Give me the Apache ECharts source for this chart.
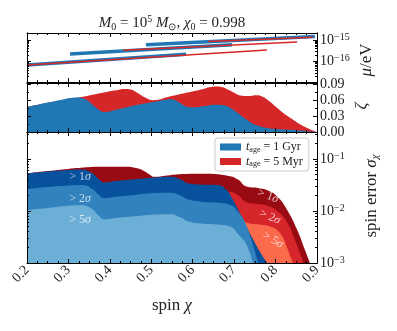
<!DOCTYPE html>
<html>
<head>
<meta charset="utf-8">
<script src="https://cdn.jsdelivr.net/npm/echarts@6/dist/echarts.min.js"></script>
<style>
html, body { margin: 0; padding: 0; background: #fff; }
#main { width: 397px; height: 331px; }
</style>
</head>
<body>
<div id="main"></div>
<script>
// top panel: log10(mu / eV) segments, [spin, log10 mu]
var muBlue = [
    [[0.2, -16.16], [0.584, -15.66]],
    [[0.304, -15.65], [0.695, -15.22]],
    [[0.487, -15.22], [0.895, -14.83]]
];
var muRed = [
    [[0.2, -16.16], [0.779, -15.46]],
    [[0.432, -15.47], [0.852, -15.09]],
    [[0.637, -15.06], [0.89, -14.87]]
];

// middle panel: zeta
var zetaBlue = [[0.2,0.047],[0.25,0.0555],[0.29,0.062],[0.31,0.0645],[0.325,0.065],[0.335,0.0635],[0.345,0.060],
    [0.355,0.054],[0.365,0.047],[0.375,0.041],[0.385,0.0378],[0.42,0.043],[0.46,0.050],[0.50,0.056],[0.53,0.0605],
    [0.545,0.062],[0.555,0.061],[0.565,0.057],[0.575,0.052],[0.59,0.047],[0.60,0.0465],[0.63,0.049],[0.655,0.0515],
    [0.675,0.0505],[0.69,0.046],[0.705,0.038],[0.72,0.029],[0.735,0.021],[0.75,0.014],[0.765,0.010],[0.78,0.0075],
    [0.80,0.0055],[0.85,0.0035],[0.9,0.001]];
var zetaRed = [[0.2,0.047],[0.25,0.055],[0.30,0.062],[0.35,0.069],[0.40,0.077],[0.42,0.0795],[0.435,0.0812],
    [0.45,0.080],[0.46,0.077],[0.47,0.072],[0.485,0.065],[0.505,0.060],[0.54,0.066],[0.58,0.073],[0.62,0.080],
    [0.64,0.0845],[0.655,0.086],[0.67,0.085],[0.685,0.080],[0.70,0.074],[0.715,0.069],[0.735,0.068],[0.755,0.0695],
    [0.77,0.066],[0.785,0.058],[0.80,0.048],[0.82,0.035],[0.84,0.0245],[0.86,0.014],[0.875,0.008],[0.89,0.003],[0.9,0.0008]];

// bottom panel: log10 spin error, [spin, log10 sigma]
var sigRed1 = [[0.2,-1.275],[0.25,-1.23],[0.30,-1.19],[0.33,-1.17],[0.376,-1.15],[0.44,-1.15],[0.46,-1.17],
    [0.48,-1.22],[0.50,-1.32],[0.505,-1.34],[0.545,-1.31],[0.58,-1.29],[0.62,-1.285],[0.69,-1.33],[0.71,-1.40],
    [0.73,-1.53],[0.76,-1.56],[0.78,-1.60],[0.804,-1.72],[0.828,-1.98],[0.852,-2.36],[0.871,-2.75],[0.883,-3.0]];
var sigRed2 = [[0.2,-1.58],[0.25,-1.53],[0.30,-1.49],[0.33,-1.47],[0.376,-1.45],[0.44,-1.45],[0.46,-1.47],
    [0.48,-1.52],[0.50,-1.62],[0.505,-1.64],[0.545,-1.61],[0.58,-1.59],[0.62,-1.585],[0.69,-1.63],[0.71,-1.70],
    [0.73,-1.83],[0.76,-1.87],[0.78,-1.90],[0.804,-2.0],[0.827,-2.2],[0.847,-2.56],[0.862,-2.88],[0.867,-3.0]];
var sigRed5 = [[0.2,-1.98],[0.25,-1.93],[0.30,-1.89],[0.33,-1.87],[0.376,-1.85],[0.44,-1.85],[0.46,-1.87],
    [0.48,-1.92],[0.50,-2.02],[0.505,-2.04],[0.545,-2.01],[0.58,-1.99],[0.62,-1.985],[0.69,-2.03],[0.71,-2.10],
    [0.73,-2.22],[0.76,-2.26],[0.787,-2.30],[0.811,-2.43],[0.827,-2.69],[0.839,-2.94],[0.843,-3.0]];
var sigBlue1 = [[0.2,-1.275],[0.25,-1.24],[0.30,-1.21],[0.33,-1.20],[0.355,-1.26],[0.375,-1.40],[0.385,-1.45],
    [0.42,-1.42],[0.46,-1.39],[0.50,-1.36],[0.545,-1.34],[0.57,-1.39],[0.59,-1.47],[0.62,-1.49],[0.66,-1.50],
    [0.68,-1.58],[0.695,-1.75],[0.718,-2.11],[0.742,-2.49],[0.765,-2.82],[0.78,-3.0]];
var sigBlue2 = [[0.2,-1.58],[0.25,-1.54],[0.30,-1.51],[0.33,-1.50],[0.355,-1.56],[0.375,-1.70],[0.385,-1.75],
    [0.42,-1.72],[0.46,-1.69],[0.50,-1.66],[0.545,-1.65],[0.57,-1.70],[0.59,-1.78],[0.62,-1.82],[0.66,-1.84],
    [0.69,-1.88],[0.71,-2.02],[0.725,-2.2],[0.742,-2.56],[0.758,-3.0]];
var sigBlue5 = [[0.2,-1.98],[0.25,-1.94],[0.30,-1.90],[0.33,-1.89],[0.355,-1.95],[0.375,-2.10],[0.385,-2.16],
    [0.42,-2.13],[0.46,-2.10],[0.50,-2.07],[0.545,-2.06],[0.57,-2.12],[0.59,-2.20],[0.62,-2.24],[0.66,-2.26],
    [0.69,-2.30],[0.71,-2.45],[0.73,-2.65],[0.745,-3.0]];

var xTicks = [0.2, 0.3, 0.4, 0.5, 0.6, 0.7, 0.8, 0.9];
var muTicks = [-16, -15];
var zetaTicks = [0, 0.03, 0.06, 0.09];
var sigTicks = [-3, -2, -1];

var serif = 'Liberation Serif';

function logMinor(lo, hi) {
    var out = [];
    for (var n = Math.floor(lo); n <= Math.ceil(hi); n++) {
        for (var k = 2; k <= 9; k++) {
            var v = n + Math.log10(k);
            if (v > lo && v < hi) out.push(v);
        }
    }
    return out;
}

var supRich = {
    b: { fontFamily: serif, fontSize: 14, color: '#222', lineHeight: 16 },
    e: { fontFamily: serif, fontSize: 10, color: '#222', verticalAlign: 'top', lineHeight: 16, padding: [0, 0, 7, 0] }
};
function powLabel(v) {
    return '{b|10}{e|' + (v < 0 ? '\u2212' : '') + Math.abs(v) + '}';
}

var grids = [
    { left: 27, right: 80, top: 33, height: 49 },
    { left: 27, right: 80, top: 83, height: 49 },
    { left: 27, right: 80, top: 132, height: 131 }
];

function xAx(gi, pos, labels) {
    return {
        type: 'value', gridIndex: gi, position: pos, min: 0.2, max: 0.9, interval: 0.1, z: 5,
        axisLine: { show: true, onZero: false, lineStyle: { color: '#000', width: 1 } },
        axisTick: { show: true, inside: true, length: 4, lineStyle: { color: '#000' } },
        minorTick: { show: true, splitNumber: 4, length: 2, lineStyle: { color: '#000' } },
        splitLine: { show: false },
        axisLabel: labels ? {
            show: true, rotate: 45, margin: 5, fontFamily: serif, fontSize: 14, color: '#222',
            formatter: function (v) { return v.toFixed(1); }
        } : { show: false }
    };
}

function yAx(gi, pos, min, max, ticks, len, labelFn) {
    return {
        type: 'value', gridIndex: gi, position: pos, min: min, max: max, z: 5,
        axisLine: { show: true, lineStyle: { color: '#000', width: 1 } },
        axisTick: { show: true, inside: true, length: len, customValues: ticks, lineStyle: { color: '#000' } },
        splitLine: { show: false },
        axisLabel: labelFn ? {
            show: true, margin: 3, customValues: ticks, formatter: labelFn,
            fontFamily: serif, fontSize: 14, color: '#222', rich: supRich
        } : { show: false }
    };
}

var muMin = -16.95, muMax = -14.67;
var zMin = 0, zMax = 0.0925;
var sMin = -3, sMax = -0.48;
var muMinor = logMinor(muMin, muMax);
var sigMinor = logMinor(sMin, sMax);
var zetaMinor = [0.015, 0.045, 0.075];

var xAxes = [xAx(0, 'bottom'), xAx(0, 'top'), xAx(1, 'bottom'), xAx(1, 'top'), xAx(2, 'bottom', true), xAx(2, 'top')];
var yAxes = [
    yAx(0, 'right', muMin, muMax, muTicks, 4, powLabel),
    yAx(0, 'left', muMin, muMax, muTicks, 4),
    yAx(0, 'right', muMin, muMax, muMinor, 2),
    yAx(0, 'left', muMin, muMax, muMinor, 2),
    yAx(1, 'right', zMin, zMax, zetaTicks, 4, function (v) { return '{b|' + v.toFixed(2) + '}'; }),
    yAx(1, 'left', zMin, zMax, zetaTicks, 4),
    yAx(1, 'right', zMin, zMax, zetaMinor, 2),
    yAx(1, 'left', zMin, zMax, zetaMinor, 2),
    yAx(2, 'right', sMin, sMax, sigTicks, 4, powLabel),
    yAx(2, 'left', sMin, sMax, sigTicks, 4),
    yAx(2, 'right', sMin, sMax, sigMinor, 2),
    yAx(2, 'left', sMin, sMax, sigMinor, 2)
];

var series = [];
muBlue.forEach(function (seg) {
    series.push({ type: 'line', xAxisIndex: 0, yAxisIndex: 0, data: seg, symbol: 'none', silent: true,
        lineStyle: { color: '#1f77b4', width: 3.5, cap: 'butt' }, z: 2 });
});
muRed.forEach(function (seg) {
    series.push({ type: 'line', xAxisIndex: 0, yAxisIndex: 0, data: seg, symbol: 'none', silent: true,
        lineStyle: { color: '#d62728', width: 1.5 }, z: 3 });
});
series.push({ name: '5 Myr', type: 'line', xAxisIndex: 2, yAxisIndex: 4, data: zetaRed, symbol: 'none', smooth: 0.5,
    color: '#d62728', lineStyle: { width: 0 }, areaStyle: { color: '#d62728', opacity: 1, origin: 'start' }, z: 2 });
series.push({ name: '1 Gyr', type: 'line', xAxisIndex: 2, yAxisIndex: 4, data: zetaBlue, symbol: 'none', smooth: 0.5,
    color: '#1f77b4', lineStyle: { width: 0 }, areaStyle: { color: '#1f77b4', opacity: 1, origin: 'start' }, z: 3 });

var sigSets = [
    [sigRed1, '#990b13'], [sigRed2, '#d7262b'], [sigRed5, '#fb6a4a'],
    [sigBlue1, '#08519c'], [sigBlue2, '#3182bd'], [sigBlue5, '#6baed6']
];
sigSets.forEach(function (s, i) {
    series.push({ type: 'line', xAxisIndex: 4, yAxisIndex: 8, data: s[0], symbol: 'none', smooth: 0.5, silent: true,
        lineStyle: { width: 0 }, areaStyle: { color: s[1], opacity: 1, origin: 'start' }, z: 2 + i * 0.01 });
});

var lblFill = 'rgba(255,255,255,0.75)';
var sigRich = {
    n: { fontFamily: serif, fontSize: 12, fill: lblFill },
    i: { fontFamily: serif, fontSize: 12, fontStyle: 'italic', fill: lblFill }
};
function sigText(x, y, k, rot) {
    return { type: 'text', x: x, y: y, rotation: rot || 0, z: 100,
        style: { text: '{n|> ' + k + '}{i|\u03c3}', rich: sigRich, align: 'center', verticalAlign: 'middle' } };
}
function vText(x, y, text, rich) {
    return { type: 'text', x: x, y: y, rotation: Math.PI / 2, z: 100,
        style: { text: text, rich: rich, align: 'center', verticalAlign: 'middle' } };
}

var nameRich = {
    n: { fontFamily: serif, fontSize: 17, fill: '#222' },
    i: { fontFamily: serif, fontSize: 17, fontStyle: 'italic', fill: '#222' },
    d: { fontFamily: serif, fontSize: 11, fontStyle: 'italic', fill: '#222', verticalAlign: 'bottom', padding: [5, 0, 0, 0] }
};
var titleRich = {
    n: { fontFamily: serif, fontSize: 15, fill: '#222', lineHeight: 18 },
    i: { fontFamily: serif, fontSize: 15, fontStyle: 'italic', fill: '#222', lineHeight: 18 },
    d: { fontFamily: serif, fontSize: 10, fill: '#222', verticalAlign: 'bottom', lineHeight: 18, padding: [4, 0, 0, 0] },
    u: { fontFamily: serif, fontSize: 10, fill: '#222', verticalAlign: 'top', lineHeight: 18, padding: [0, 0, 6, 0] }
};

var graphics = [
    { type: 'text', x: 172, y: 23, z: 100, style: {
        text: '{i|M}{d|0}{n| = 10}{u|5}{n| }{i|M}{d|\u2299}{n|, }{i|\u03c7}{d|0}{n| = 0.998}',
        rich: titleRich, align: 'center', verticalAlign: 'middle' } },
    { type: 'text', x: 172, y: 306, z: 100, style: {
        text: '{n|spin }{i|\u03c7}', rich: nameRich, align: 'center', verticalAlign: 'middle' } },
    vText(367, 60, '{i|\u03bc}{n|/eV}', nameRich),
    vText(362, 106, '{i|\u03b6}', nameRich),
    vText(372, 196, '{n|spin error }{i|\u03c3}{d|\u03c7}', nameRich),
    sigText(80, 177, 1), sigText(80, 199, 2), sigText(80, 220, 5),
    sigText(268, 196, 1, -0.35), sigText(270, 217, 2, -0.4), sigText(273, 240, 5, -0.5)
];

var myChart = echarts.init(document.getElementById('main'), null, { renderer: 'canvas' });
option = {
    animation: false,
    backgroundColor: '#fff',
    grid: grids,
    xAxis: xAxes,
    yAxis: yAxes,
    legend: {
        data: ['1 Gyr', '5 Myr'],
        orient: 'vertical',
        left: 215, top: 138,
        icon: 'rect',
        itemWidth: 21, itemHeight: 7, itemGap: 2,
        padding: [3, 6, 3, 5],
        borderColor: '#ccc', borderWidth: 1, borderRadius: 3,
        backgroundColor: 'rgba(255,255,255,0.85)',
        selectedMode: false,
        formatter: function (name) { return '{t|t}{s|age}{n| = ' + name + '}'; },
        textStyle: {
            rich: {
                t: { fontFamily: serif, fontSize: 12, fontStyle: 'italic', color: '#222', lineHeight: 13 },
                s: { fontFamily: serif, fontSize: 8, color: '#222', verticalAlign: 'bottom', lineHeight: 13, padding: [4, 0, 0, 0] },
                n: { fontFamily: serif, fontSize: 12, color: '#222', lineHeight: 13 }
            }
        }
    },
    series: series,
    graphic: graphics
};
myChart.setOption(option);
</script>
</body>
</html>
